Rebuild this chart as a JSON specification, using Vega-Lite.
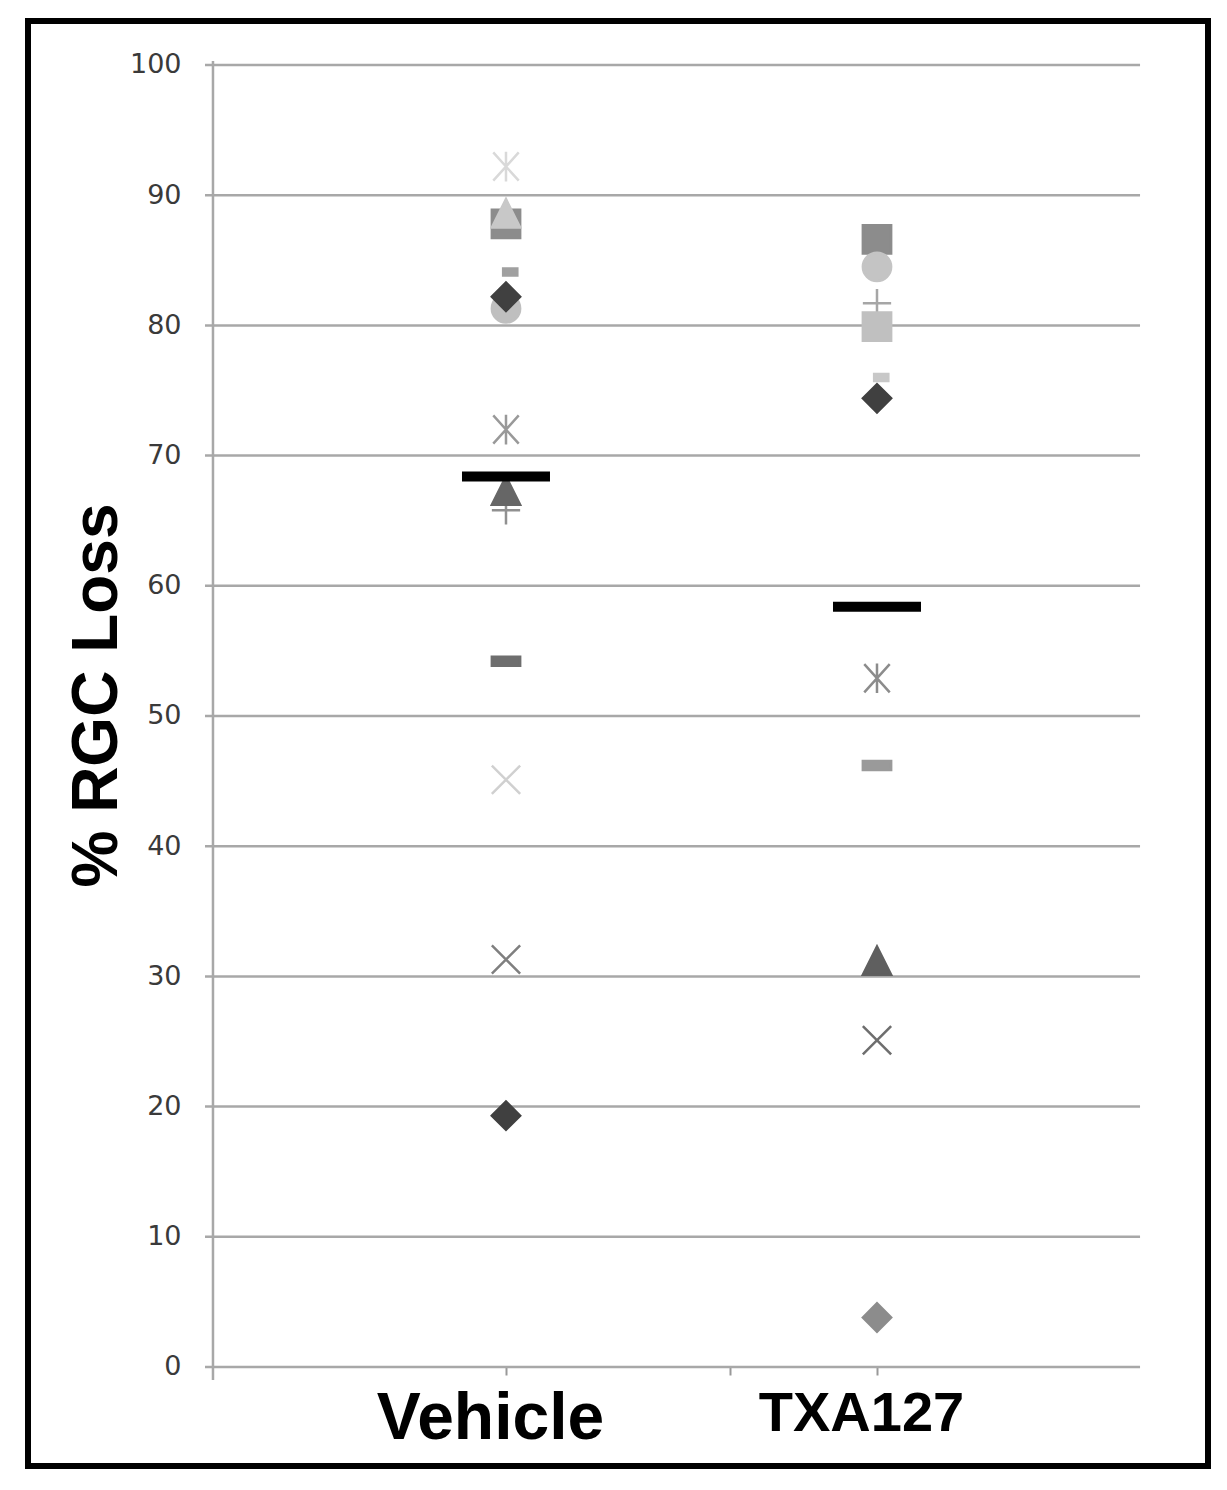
{
  "$schema": "https://vega.github.io/schema/vega-lite/v6.json",
  "width": 1180,
  "height": 1445,
  "autosize": "none",
  "padding": {"left": 28, "top": 21, "right": 19, "bottom": 24},
  "background": "white",
  "config": {
    "view": {"stroke": "black", "strokeWidth": 6},
    "axis": {"labelFont": "DejaVu Sans", "titleFont": "Liberation Sans"}
  },
  "datasets": {
    "ticks": [{"v": 0}, {"v": 10}, {"v": 20}, {"v": 30}, {"v": 40}, {"v": 50}, {"v": 60}, {"v": 70}, {"v": 80}, {"v": 90}, {"v": 100}],
    "points": [
      {"group": "Vehicle", "groupIndex": 1, "series": "V01", "value": 92.2},
      {"group": "Vehicle", "groupIndex": 1, "series": "V02", "value": 87.8},
      {"group": "Vehicle", "groupIndex": 1, "series": "V03", "value": 88.5},
      {"group": "Vehicle", "groupIndex": 1, "series": "V04", "value": 84.1},
      {"group": "Vehicle", "groupIndex": 1, "series": "V05", "value": 81.3},
      {"group": "Vehicle", "groupIndex": 1, "series": "V06", "value": 82.2},
      {"group": "Vehicle", "groupIndex": 1, "series": "V07", "value": 72.0},
      {"group": "Vehicle", "groupIndex": 1, "series": "V08", "value": 65.8},
      {"group": "Vehicle", "groupIndex": 1, "series": "V09", "value": 67.2},
      {"group": "Vehicle", "groupIndex": 1, "series": "V10", "value": 54.2},
      {"group": "Vehicle", "groupIndex": 1, "series": "V11", "value": 45.1},
      {"group": "Vehicle", "groupIndex": 1, "series": "V12", "value": 31.3},
      {"group": "Vehicle", "groupIndex": 1, "series": "V13", "value": 19.3},
      {"group": "TXA127", "groupIndex": 2, "series": "T01", "value": 86.6},
      {"group": "TXA127", "groupIndex": 2, "series": "T02", "value": 84.5},
      {"group": "TXA127", "groupIndex": 2, "series": "T03", "value": 81.7},
      {"group": "TXA127", "groupIndex": 2, "series": "T04", "value": 79.9},
      {"group": "TXA127", "groupIndex": 2, "series": "T05", "value": 76.0},
      {"group": "TXA127", "groupIndex": 2, "series": "T06", "value": 74.4},
      {"group": "TXA127", "groupIndex": 2, "series": "T07", "value": 52.9},
      {"group": "TXA127", "groupIndex": 2, "series": "T08", "value": 46.2},
      {"group": "TXA127", "groupIndex": 2, "series": "T09", "value": 31.1},
      {"group": "TXA127", "groupIndex": 2, "series": "T10", "value": 25.1},
      {"group": "TXA127", "groupIndex": 2, "series": "T11", "value": 3.8}
    ],
    "means": [
      {"group": "Vehicle", "groupIndex": 1, "mean": 68.4},
      {"group": "TXA127", "groupIndex": 2, "mean": 58.4}
    ]
  },
  "layer": [
    {
      "data": {"name": "ticks"},
      "mark": {"type": "rule", "color": "#a8a8a8", "strokeWidth": 2.5},
      "encoding": {
        "y": {
          "field": "v", "type": "quantitative",
          "scale": {"domain": [-7.604, 103.379], "nice": false, "zero": false},
          "axis": {
            "values": [0, 10, 20, 30, 40, 50, 60, 70, 80, 90, 100],
            "orient": "left", "offset": -185, "domain": false, "ticks": false, "grid": false,
            "labelPadding": 32, "labelFontSize": 27, "labelColor": "#3a3a3a",
            "title": "% RGC Loss", "titleFontSize": 64, "titleFontWeight": "bold", "titleColor": "black",
            "titlePadding": 0, "titleY": 674
          }
        },
        "x": {
          "datum": 0.1887, "type": "quantitative",
          "scale": {"domain": [-0.2884, 2.8922], "nice": false, "zero": false},
          "axis": {
            "values": [1, 1.604, 2],
            "orient": "bottom", "offset": -99, "domain": false, "grid": false,
            "ticks": true, "tickColor": "#999999", "tickSize": 8, "tickWidth": 2,
            "labelExpr": "datum.value == 1 ? 'Vehicle' : datum.value == 2 ? 'TXA127' : ''",
            "labelFont": "Liberation Sans", "labelFontWeight": "bold",
            "labelFontSize": {"condition": {"test": "datum.value == 1", "value": 66}, "value": 56},
            "labelColor": "black", "labelPadding": 11, "labelOffset": -16, "labelLimit": 0,
            "labelFlush": false, "labelOverlap": false,
            "title": null
          }
        },
        "x2": {"datum": 2.709}
      }
    },
    {
      "data": {"values": [{"axis": "y"}]},
      "mark": {"type": "rule", "color": "#a8a8a8", "strokeWidth": 2.5},
      "encoding": {
        "x": {"datum": 0.2102, "type": "quantitative"},
        "y": {"datum": 100.3, "type": "quantitative"},
        "y2": {"datum": -1}
      }
    },
    {
      "data": {"name": "points"},
      "mark": {"type": "point", "filled": true, "size": 800, "strokeWidth": 2.5, "opacity": 1},
      "encoding": {
        "x": {"field": "groupIndex", "type": "quantitative"},
        "y": {"field": "value", "type": "quantitative"},
        "shape": {
          "field": "series", "type": "nominal", "legend": null,
          "scale": {
            "domain": ["V01","V02","V03","V04","V05","V06","V07","V08","V09","V10","V11","V12","V13","T01","T02","T03","T04","T05","T06","T07","T08","T09","T10","T11"],
            "range": [
              "M-0.9,-1L0.9,1M-0.9,1L0.9,-1M0,-1.05L0,1.05",
              "square",
              "M0,-1.1L1,0.9L-1,0.9Z",
              "M-0.2,-0.25L0.8,-0.25L0.8,0.25L-0.2,0.25Z",
              "circle",
              "diamond",
              "M-0.9,-1L0.9,1M-0.9,1L0.9,-1M0,-1.05L0,1.05",
              "M-1,0L1,0M0,-1L0,1",
              "M0,-1.1L1,0.9L-1,0.9Z",
              "M-1,-0.32L1,-0.32L1,0.32L-1,0.32Z",
              "M-1,-1L1,1M-1,1L1,-1",
              "M-1,-1L1,1M-1,1L1,-1",
              "diamond",
              "square",
              "circle",
              "M-1,0L1,0M0,-1L0,1",
              "square",
              "M-0.2,-0.25L0.8,-0.25L0.8,0.25L-0.2,0.25Z",
              "diamond",
              "M-0.9,-1L0.9,1M-0.9,1L0.9,-1M0,-1.05L0,1.05",
              "M-1,-0.32L1,-0.32L1,0.32L-1,0.32Z",
              "M0,-1.1L1,0.9L-1,0.9Z",
              "M-1,-1L1,1M-1,1L1,-1",
              "diamond"
            ]
          }
        },
        "fill": {
          "field": "series", "type": "nominal", "legend": null,
          "scale": {
            "domain": ["V01","V02","V03","V04","V05","V06","V07","V08","V09","V10","V11","V12","V13","T01","T02","T03","T04","T05","T06","T07","T08","T09","T10","T11"],
            "range": ["#d9d9d9","#8c8c8c","#c8c8c8","#a0a0a0","#bfbfbf","#404040","#999999","#909090","#666666","#6e6e6e","#d0d0d0","#7f7f7f","#404040","#8c8c8c","#c4c4c4","#a6a6a6","#c0c0c0","#c8c8c8","#404040","#8c8c8c","#9a9a9a","#5f5f5f","#6e6e6e","#8c8c8c"]
          }
        },
        "stroke": {
          "field": "series", "type": "nominal", "legend": null,
          "scale": {
            "domain": ["V01","V02","V03","V04","V05","V06","V07","V08","V09","V10","V11","V12","V13","T01","T02","T03","T04","T05","T06","T07","T08","T09","T10","T11"],
            "range": ["#d9d9d9","#8c8c8c","#c8c8c8","#a0a0a0","#bfbfbf","#404040","#999999","#909090","#666666","#6e6e6e","#d0d0d0","#7f7f7f","#404040","#8c8c8c","#c4c4c4","#a6a6a6","#c0c0c0","#c8c8c8","#404040","#8c8c8c","#9a9a9a","#5f5f5f","#6e6e6e","#8c8c8c"]
          }
        }
      }
    },
    {
      "data": {"name": "means"},
      "mark": {"type": "tick", "orient": "horizontal", "color": "black", "size": 88, "thickness": 10, "opacity": 1},
      "encoding": {
        "x": {"field": "groupIndex", "type": "quantitative"},
        "y": {"field": "mean", "type": "quantitative"}
      }
    }
  ]
}
